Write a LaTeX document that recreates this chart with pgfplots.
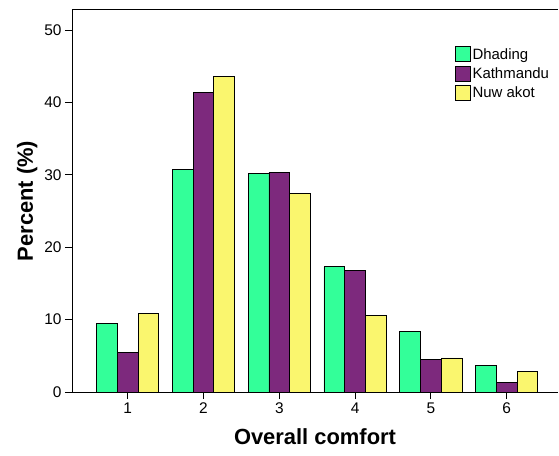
\documentclass[border=0pt]{standalone}
\usepackage{pgfplots}
\pgfplotsset{compat=1.18}
\usepackage{fontspec}
\setmainfont{Liberation Sans}
\definecolor{cgreen}{RGB}{51,255,153}
\definecolor{cpurple}{RGB}{125,41,125}
\definecolor{cyellow}{RGB}{250,246,110}
\begin{document}
\begin{tikzpicture}
\begin{axis}[name=ax, scale only axis, width=486bp, height=382bp,
  xmin=0.265, xmax=6.677, ymin=0, ymax=52.8,
  ybar, bar width=0.274,
  axis x line*=bottom, axis y line*=left,
  xtick={1,...,6}, ytick={0,10,...,50},
  tick align=outside, major tick length=7bp,
  tick style={black, line width=1pt},
  axis line style={line width=1pt},
  tick label style={font=\fontsize{15.5}{18}\selectfont},
  /pgf/number format/assume math mode=true,
  xlabel={Overall comfort}, ylabel={Percent (\%)},
  label style={font=\fontsize{22}{26}\selectfont\bfseries},
  xlabel style={yshift=-8bp},
  legend style={draw=none, fill=none, at={(0.788,0.905)}, anchor=north west,
    font=\fontsize{15}{17}\selectfont, row sep=3.5bp, inner sep=0pt,
    nodes={inner sep=1.5bp}},
  legend cell align=left,
  legend image code/.code={\draw[#1, draw=black, line width=0.9pt] (0bp,-7.5bp) rectangle (15bp,7.5bp);},
]
\addplot[fill=cgreen, draw=black, line width=0.8pt, bar shift=-0.274] coordinates {(1,9.5) (2,30.8) (3,30.2) (4,17.3) (5,8.4) (6,3.65)};
\addplot[fill=cpurple, draw=black, line width=0.8pt, bar shift=0] coordinates {(1,5.5) (2,41.45) (3,30.35) (4,16.8) (5,4.5) (6,1.3)};
\addplot[fill=cyellow, draw=black, line width=0.8pt, bar shift=0.274] coordinates {(1,10.9) (2,43.6) (3,27.5) (4,10.6) (5,4.7) (6,2.8)};
\legend{Dhading, Kathmandu, Nuw akot}
\draw[line width=1pt] (rel axis cs:0,1) -- (rel axis cs:1,1);
\end{axis}
\path (ax.south west) ++(-72bp,-64bp) coordinate (a);
\path (ax.north east) ++(1bp,10bp) coordinate (b);
\pgfresetboundingbox
\path[use as bounding box] (a) rectangle (b);
\end{tikzpicture}
\end{document}
